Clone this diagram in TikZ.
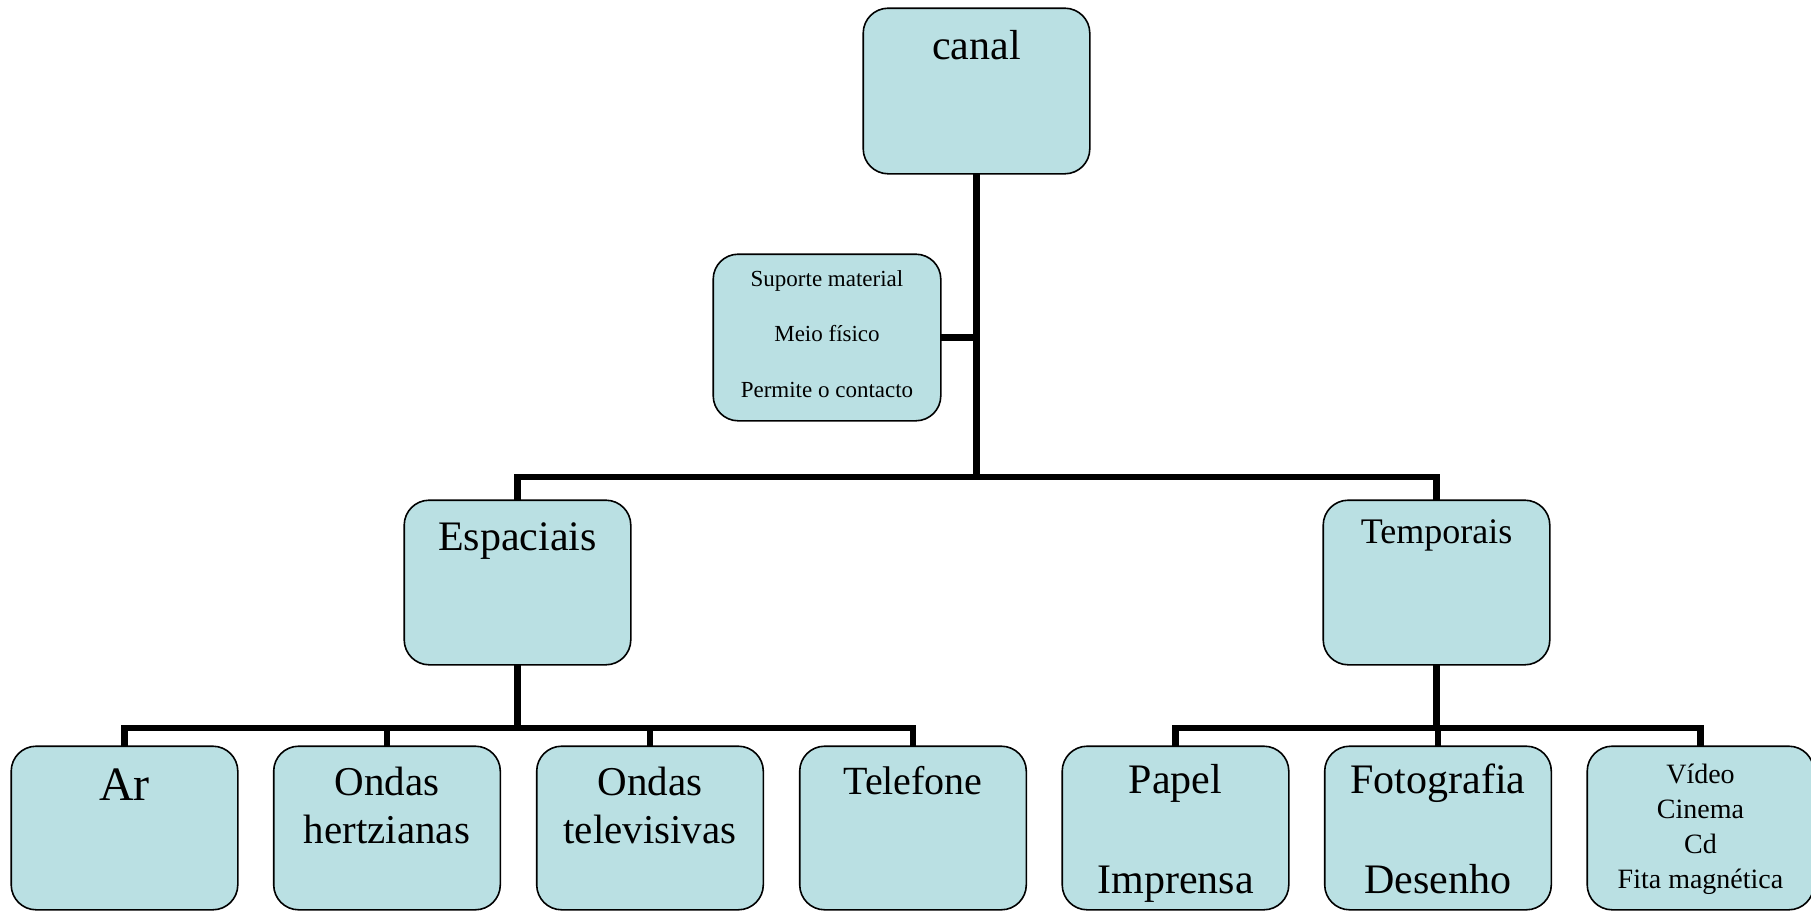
\documentclass[tikz,border=0pt]{standalone}
\usepackage{fontspec}
\setmainfont{Liberation Serif}
\definecolor{boxfill}{RGB}{186,224,227}
\newcommand{\fs}[2]{\fontsize{#1}{#2}\selectfont}
\tikzset{
  box/.style={draw=black, line width=1.6pt, fill=boxfill, rounded corners=25pt,
              minimum width=225pt, minimum height=162pt, inner sep=0pt},
  conn/.style={line width=6.5pt, line join=miter, line cap=rect},
  % anchored on the baseline of the last line
  lbl/.style={anchor=base, align=center, inner sep=0pt}
}
\begin{document}
\begin{tikzpicture}[x=1pt, y=-1pt]
\useasboundingbox (0,0) rectangle (1811,910);

% boxes (centres)
\node[box, minimum height=164pt] (canal) at (976.5,91) {};
\node[box, minimum width=226pt, minimum height=165pt] (sup) at (827,337.5) {};
\node[box, minimum height=163pt] (esp) at (517.5,582.5) {};
\node[box, minimum height=163pt] (temp) at (1436.5,582.5) {};
\node[box] (ar)   at (124.5,828) {};
\node[box] (hz)   at (387,828) {};
\node[box] (tv)   at (650,828) {};
\node[box] (tel)  at (913,828) {};
\node[box] (pap)  at (1175.5,828) {};
\node[box] (foto) at (1438,828) {};
\node[box] (vid)  at (1700.5,828) {};

% bus junctions
\coordinate (bustop) at (976.5,477);
\coordinate (busesp) at (517.5,728);
\coordinate (bustemp) at (1436.5,728);

% connectors
\draw[conn] (canal.south) -- (bustop);
\draw[conn] (sup.east) -- (sup.east -| canal.south);
\draw[conn] (esp.north) |- (bustop) -| (temp.north);
\draw[conn] (esp.south) -- (busesp);
\draw[conn] (ar.north) |- (busesp) -| (tel.north);
\draw[conn] (hz.north) -- (hz.north |- busesp);
\draw[conn] (tv.north) -- (tv.north |- busesp);
\draw[conn] (temp.south) -- (bustemp);
\draw[conn] (pap.north) |- (bustemp) -| (vid.north);
\draw[conn] (foto.north) -- (foto.north |- bustemp);

% redraw boxes over the connector ends
\foreach \n in {canal,sup,esp,temp,ar,hz,tv,tel,pap,foto,vid}{
  \draw[box] (\n.south west) rectangle (\n.north east);
}

% texts
\node[lbl, font=\fs{42}{48}] (t-canal) at (976.5,59) {canal};
\node[lbl, font=\fs{23}{55.5}] (t-sup) at (827,397) {Suporte material\\Meio físico\\Permite o contacto};
\node[lbl, font=\fs{42}{48}] (t-esp) at (517.5,550) {Espaciais};
\node[lbl, font=\fs{36}{42}] (t-temp) at (1436.5,543) {Temporais};
\node[lbl, font=\fs{48}{54}] (t-ar) at (124.5,800) {Ar};
\node[lbl, font=\fs{41}{48}] (t-hz) at (387,843) {Ondas\\hertzianas};
\node[lbl, font=\fs{41}{48}] (t-tv) at (650,843) {Ondas\\televisivas};
\node[lbl, font=\fs{40}{48}] (t-tel) at (913,794) {Telefone};
\node[lbl, font=\fs{42}{100}] (t-pap) at (1175.5,893) {Papel\\Imprensa};
\node[lbl, font=\fs{42}{100}] (t-foto) at (1438,893) {Fotografia\\Desenho};
\node[lbl, font=\fs{28}{35}] (t-vid) at (1700.5,888) {Vídeo\\Cinema\\Cd\\Fita magnética};
\end{tikzpicture}
\end{document}
